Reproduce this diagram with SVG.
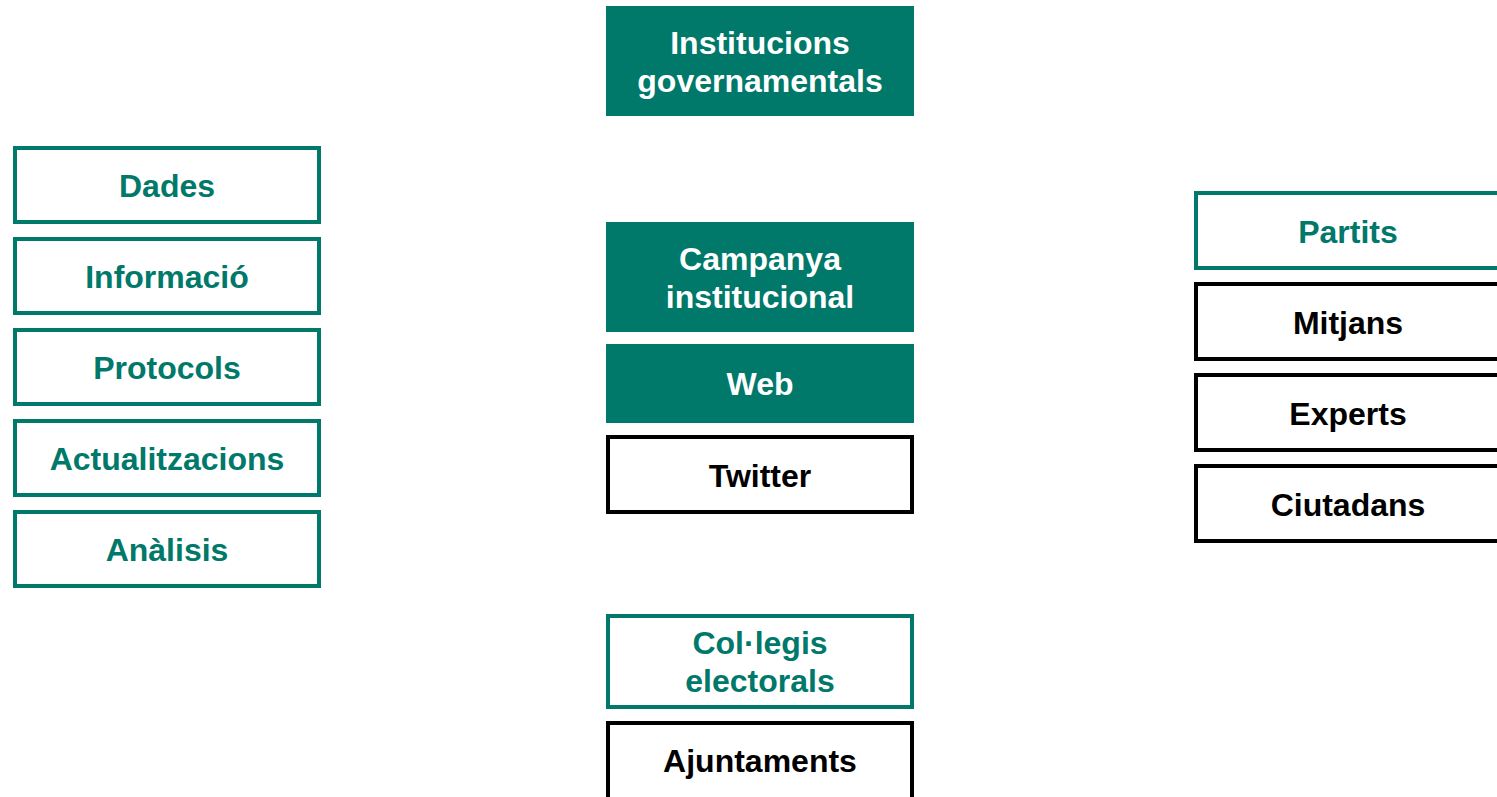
<svg xmlns="http://www.w3.org/2000/svg" width="1497" height="797" viewBox="0 0 1497 797">
<style>
text{font-family:"Liberation Sans",Arial,sans-serif;font-weight:bold;font-size:32px;text-anchor:middle}
.fill{fill:#00786A;stroke:none}
.tb{fill:#fff;stroke:#00786A;stroke-width:4}
.bb{fill:#fff;stroke:#000;stroke-width:4}
.tw{fill:#fff}
.tt{fill:#00786A}
.tk{fill:#000}
</style>
<rect width="1497" height="797" fill="#fff"/>
<g id="connectors"/>
<g id="institucions"><rect class="fill" x="606" y="6" width="308" height="110"/><text class="tw" x="760" y="54">Institucions</text><text class="tw" x="760" y="92">governamentals</text></g>
<g id="campanya"><rect class="fill" x="606" y="222" width="308" height="110"/><text class="tw" x="760" y="270">Campanya</text><text class="tw" x="760" y="308">institucional</text></g>
<g id="web"><rect class="fill" x="606" y="344" width="308" height="79"/><text class="tw" x="760" y="395">Web</text></g>
<g id="twitter"><rect class="bb" x="608" y="437" width="304" height="75"/><text class="tk" x="760" y="487">Twitter</text></g>
<g id="collegis"><rect class="tb" x="608" y="616" width="304" height="91"/><text class="tt" x="760" y="654">Col·legis</text><text class="tt" x="760" y="692">electorals</text></g>
<g id="ajuntaments"><rect class="bb" x="608" y="723" width="304" height="76"/><text class="tk" x="760" y="772">Ajuntaments</text></g>
<g id="dades"><rect class="tb" x="15" y="148" width="304" height="74"/><text class="tt" x="167" y="197">Dades</text></g>
<g id="informacio"><rect class="tb" x="15" y="239" width="304" height="74"/><text class="tt" x="167" y="288">Informació</text></g>
<g id="protocols"><rect class="tb" x="15" y="330" width="304" height="74"/><text class="tt" x="167" y="379">Protocols</text></g>
<g id="actualitzacions"><rect class="tb" x="15" y="421" width="304" height="74"/><text class="tt" x="167" y="470">Actualitzacions</text></g>
<g id="analisis"><rect class="tb" x="15" y="512" width="304" height="74"/><text class="tt" x="167" y="561">Anàlisis</text></g>
<g id="partits"><rect class="tb" x="1196" y="193" width="304" height="75"/><text class="tt" x="1348" y="243">Partits</text></g>
<g id="mitjans"><rect class="bb" x="1196" y="284" width="304" height="75"/><text class="tk" x="1348" y="334">Mitjans</text></g>
<g id="experts"><rect class="bb" x="1196" y="375" width="304" height="75"/><text class="tk" x="1348" y="425">Experts</text></g>
<g id="ciutadans"><rect class="bb" x="1196" y="466" width="304" height="75"/><text class="tk" x="1348" y="516">Ciutadans</text></g>
</svg>
